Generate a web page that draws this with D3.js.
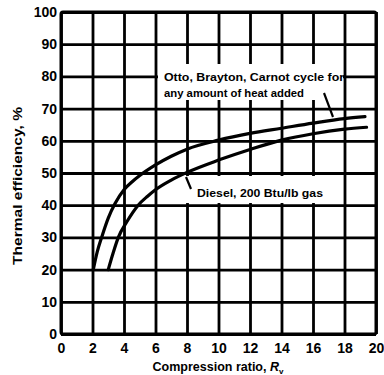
<!DOCTYPE html>
<html>
<head>
<meta charset="utf-8">
<script src="https://cdn.jsdelivr.net/npm/d3@7"></script>
<style>
  html, body { margin: 0; padding: 0; background: #fff; }
  svg { display: block; font-family: "Liberation Sans", Arial, sans-serif; font-weight: bold; }
</style>
</head>
<body>
<div id="chart"></div>
<script>
// ---- data ----
const xTicks = [0, 2, 4, 6, 8, 10, 12, 14, 16, 18, 20];
const yTicks = [0, 10, 20, 30, 40, 50, 60, 70, 80, 90, 100];

const ottoRatio = [2.05, 2.3, 2.58, 3.0, 3.43, 4.0, 4.5, 5.0, 6.0, 7.0, 8.0, 10.0, 12.0, 14.0, 16.0, 18.0, 19.3];
const ottoEff   = [20, 25.5, 30, 36, 40.5, 44.8, 47.2, 49.2, 52.5, 55.2, 57.4, 60.2, 62.3, 63.9, 65.5, 66.9, 67.5];

const dieselRatio = [3.0, 3.3, 3.64, 4.2, 4.9, 5.5, 6.0, 7.0, 8.0, 10.0, 12.0, 14.0, 16.0, 18.0, 19.4];
const dieselEff   = [20, 25, 30, 35, 40, 42.8, 44.8, 47.8, 50.2, 54, 57.3, 60.2, 62.2, 63.6, 64.2];

const ottoLabel = ["Otto, Brayton, Carnot cycle for", "any amount of heat added"];
const dieselLabel = "Diesel, 200 Btu/lb gas";
const xTitle = "Compression ratio, ";
const yTitle = "Thermal efficiency, %";

// ---- layout ----
const W = 384, H = 375;
const x = d3.scaleLinear().domain([0, 20]).range([61, 376]);
const y = d3.scaleLinear().domain([0, 100]).range([334, 12]);

const svg = d3.select("#chart").append("svg").attr("width", W).attr("height", H);

// grid via axes
const gx = svg.append("g").attr("transform", `translate(0,${y(0)})`)
  .call(d3.axisBottom(x).tickValues(xTicks).tickSize(-(y(0) - y(100))).tickPadding(7).tickFormat(d3.format("d")));
const gy = svg.append("g").attr("transform", `translate(${x(0)},0)`)
  .call(d3.axisLeft(y).tickValues(yTicks).tickSize(-(x(20) - x(0))).tickPadding(4).tickFormat(d3.format("d")));

[gx, gy].forEach(g => {
  g.select(".domain").remove();
  g.selectAll(".tick line").attr("stroke", "#000").attr("stroke-width", 2.8);
  g.selectAll(".tick text").attr("fill", "#000").style("font-size", "14px").style("font-weight", "bold")
    .style("font-family", "'Liberation Sans', Arial, sans-serif");
});
gx.selectAll(".tick text").attr("dy", "0.85em");

// frame
svg.append("rect").attr("x", x(0)).attr("y", y(100))
  .attr("width", x(20) - x(0)).attr("height", y(0) - y(100))
  .attr("fill", "none").attr("stroke", "#000").attr("stroke-width", 3).attr("rx", 2);

// label boxes (hide grid behind text)
svg.append("rect").attr("x", 158).attr("y", 64).attr("width", 185).attr("height", 36).attr("fill", "#fff");
svg.append("rect").attr("x", 186).attr("y", 176).attr("width", 156).attr("height", 27).attr("fill", "#fff");

// curves
const line = d3.line().x(d => x(d[0])).y(d => y(d[1])).curve(d3.curveMonotoneX);
const ottoData = ottoRatio.map((r, i) => [r, ottoEff[i]]);
const dieselData = dieselRatio.map((r, i) => [r, dieselEff[i]]);

svg.append("path").datum(ottoData).attr("d", line)
  .attr("fill", "none").attr("stroke", "#000").attr("stroke-width", 3.2).attr("stroke-linecap", "round");
svg.append("path").datum(dieselData).attr("d", line)
  .attr("fill", "none").attr("stroke", "#000").attr("stroke-width", 3.2).attr("stroke-linecap", "round");

// annotations
const t1 = svg.append("text").attr("x", 164).attr("y", 81).style("font-size", "11px");
t1.append("tspan").attr("x", 164).attr("y", 81).attr("textLength", 180).attr("lengthAdjust", "spacingAndGlyphs").text(ottoLabel[0]);
t1.append("tspan").attr("x", 164).attr("y", 97).attr("textLength", 140).attr("lengthAdjust", "spacingAndGlyphs").text(ottoLabel[1]);
svg.append("line").attr("x1", 324).attr("y1", 93).attr("x2", 333).attr("y2", 117)
  .attr("stroke", "#000").attr("stroke-width", 2.2);

svg.append("text").attr("x", 197).attr("y", 197).style("font-size", "11px")
  .attr("textLength", 126).attr("lengthAdjust", "spacingAndGlyphs").text(dieselLabel);
svg.append("line").attr("x1", 191).attr("y1", 189).attr("x2", 186).attr("y2", 177)
  .attr("stroke", "#000").attr("stroke-width", 2.2);

// axis titles
const xt = svg.append("text").attr("x", 218).attr("y", 371).attr("text-anchor", "middle").style("font-size", "12.5px");
xt.append("tspan").text(xTitle);
xt.append("tspan").style("font-style", "italic").text("R");
xt.append("tspan").attr("dy", 3).style("font-size", "8px").text("v");

svg.append("text").attr("transform", `translate(22,186) rotate(-90)`).attr("text-anchor", "middle")
  .style("font-size", "13px").attr("textLength", 158).attr("lengthAdjust", "spacingAndGlyphs").text(yTitle);
</script>
</body>
</html>
